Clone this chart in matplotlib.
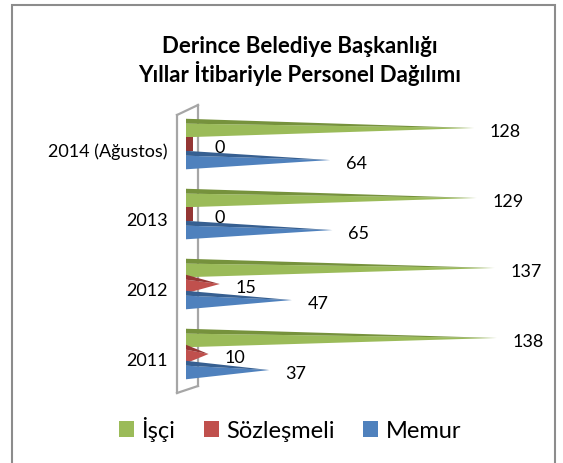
import matplotlib
matplotlib.use("Agg")
import matplotlib.pyplot as plt
from matplotlib.patches import Polygon, Rectangle, Patch
from matplotlib.lines import Line2D

plt.rcParams['font.family'] = ['Lato', 'DejaVu Sans']

# veri
kategoriler = ["2011", "2012", "2013", "2014 (Ağustos)"]
isci = [138, 137, 129, 128]
sozlesmeli = [10, 15, 0, 0]
memur = [37, 47, 65, 64]

seriler = ["İşçi", "Sözleşmeli", "Memur"]
renkler = ["#9BBB59", "#C0504D", "#4F81BD"]
koyu = ["#76923C", "#943634", "#365F91"]
kaymalar = [0.229, 0.0, -0.229]

W, H = 563, 463
fig = plt.figure(figsize=(W / 100, H / 100), dpi=100)


def px(x, y):
    return x / W, 1 - y / H


# dis cerceve
fig.add_artist(Rectangle(px(12, 470), 543 / W, 465 / H, transform=fig.transFigure,
                         fill=False, edgecolor="#8c8c8c", lw=1.5, zorder=-2))

# 3B duvar cizgileri
duvar = [((177, 115), (177, 393)), ((198, 105), (198, 386)),
         ((177, 115), (198, 105)), ((177, 393), (198, 386))]
for a, b in duvar:
    (x1, y1), (x2, y2) = px(*a), px(*b)
    fig.add_artist(Line2D([x1, x2], [y1, y2], transform=fig.transFigure,
                          color="#a6a6a6", lw=1.6, zorder=-1))

ax = fig.add_axes([186 / W, 1 - 393 / H, 360 / W, 293 / H])
ax.set_facecolor("none")

h = 0.132   # yarim kalinlik
t = 0.07    # ust yuz

degerler = [isci, sozlesmeli, memur]
for s, vals in enumerate(degerler):
    for i, v in enumerate(vals):
        c = i + kaymalar[s]
        if v == 0:
            ax.add_patch(Rectangle((0, c - h * 0.8), 3, 2 * h * 0.8,
                                   facecolor=koyu[s], edgecolor="none"))
        else:
            on = Polygon([(0, c - h), (0, c + h - t), (v, c)], closed=True,
                         facecolor=renkler[s], edgecolor="none")
            ust = Polygon([(0, c + h - t), (0, c + h), (v, c)], closed=True,
                          facecolor=koyu[s], edgecolor="none")
            ax.add_patch(on)
            ax.add_patch(ust)
        dx = 11.5 + (9 if v == 0 else 0)
        ax.annotate(str(v), (v, c), xytext=(dx, -3), textcoords="offset points",
                    ha="left", va="center", fontsize=13, color="black")

ax.set_xlim(0, 160)
ax.set_ylim(-0.557, 3.629)
ax.set_yticks([i - 0.085 for i in range(len(kategoriler))])
ax.set_yticklabels(kategoriler, fontsize=13)
ax.tick_params(axis="y", length=0, pad=13)
ax.set_xticks([])
for sp in ax.spines.values():
    sp.set_visible(False)

fig.text(300 / W, 1 - 61 / H, "Derince Belediye Başkanlığı\nYıllar İtibariyle Personel Dağılımı",
         ha="center", va="center", fontsize=16, fontweight="bold", linespacing=1.2)

tutamak = [Patch(facecolor=renkler[k], label=seriler[k]) for k in range(3)]
fig.legend(handles=tutamak, loc="center", bbox_to_anchor=px(290, 429), ncol=3,
           frameon=False, fontsize=17, handlelength=0.65, handleheight=0.65,
           handletextpad=0.3, columnspacing=1.2)

fig.savefig("out.png", dpi=100)
